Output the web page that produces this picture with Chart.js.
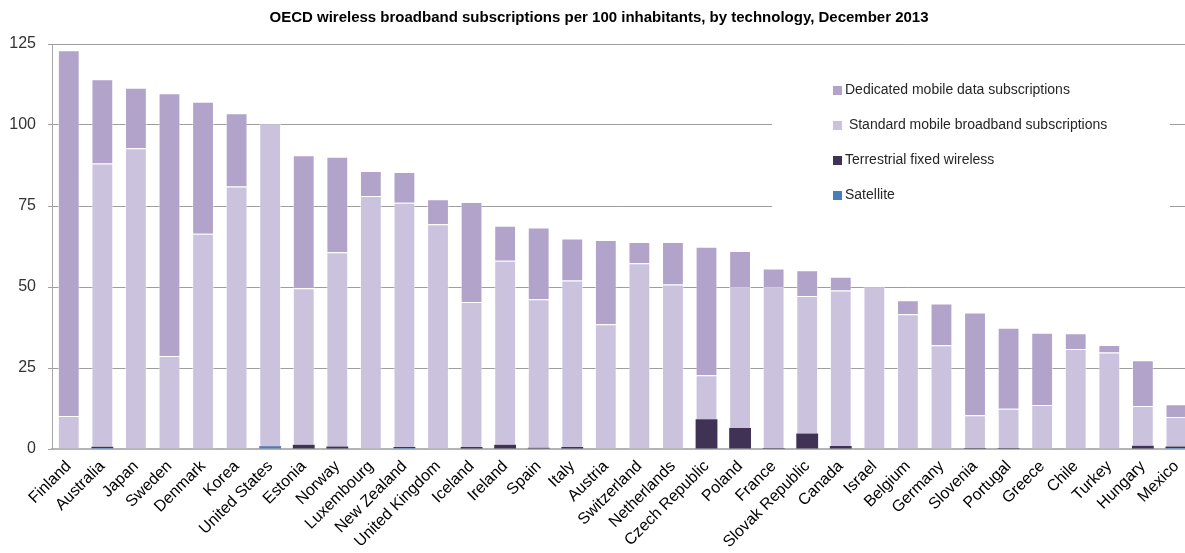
<!DOCTYPE html>
<html>
<head>
<meta charset="utf-8">
<script src="https://cdn.jsdelivr.net/npm/chart.js@4/dist/chart.umd.min.js"></script>
<style>
  html, body { margin: 0; padding: 0; overflow: hidden; background: #fff; }
  #wrap { width: 1198px; height: 553px; }
</style>
</head>
<body>
<div id="wrap"><canvas id="chart" width="1198" height="553"></canvas></div>
<script>
const countries = ['Finland', 'Australia', 'Japan', 'Sweden', 'Denmark', 'Korea', 'United States', 'Estonia',
  'Norway', 'Luxembourg', 'New Zealand', 'United Kingdom', 'Iceland', 'Ireland', 'Spain', 'Italy', 'Austria',
  'Switzerland', 'Netherlands', 'Czech Republic', 'Poland', 'France', 'Slovak Republic', 'Canada', 'Israel',
  'Belgium', 'Germany', 'Slovenia', 'Portugal', 'Greece', 'Chile', 'Turkey', 'Hungary', 'Mexico'];

const satellite = [0, 0.3, 0, 0, 0, 0, 0.8, 0, 0, 0, 0.3, 0, 0, 0, 0, 0, 0,
  0, 0, 0, 0, 0, 0, 0, 0, 0, 0, 0, 0, 0, 0, 0, 0, 0.3];

const terrestrial = [0, 0.4, 0, 0, 0, 0, 0.1, 1.3, 0.8, 0, 0.3, 0, 0.6, 1.3, 0.4, 0.6, 0,
  0, 0, 9.2, 6.5, 0.3, 4.8, 0.9, 0, 0, 0, 0.3, 0.3, 0, 0, 0, 1.0, 0.5];

const standard = [10.2, 87.4, 92.8, 28.7, 66.4, 81.0, 99.6, 48.3, 59.9, 78.1, 75.4, 69.4, 44.8, 56.8, 45.8, 51.4, 38.5,
  57.3, 50.8, 13.6, 43.5, 49.7, 42.4, 48.0, 50.2, 41.6, 32.0, 10.1, 12.1, 13.6, 30.9, 29.8, 12.3, 9.1];

const dedicated = [112.9, 26.0, 18.7, 81.1, 40.8, 22.6, 0, 41.1, 29.5, 7.7, 9.5, 7.7, 30.8, 10.8, 22.2, 13.0, 26.0,
  6.6, 13.1, 39.6, 11.1, 5.7, 8.0, 4.3, 0, 4.3, 12.9, 31.7, 25.0, 22.3, 4.8, 2.3, 14.1, 3.9];

const yTicks = [0, 25, 50, 75, 100, 125];

const colors = {
  dedicated: '#b1a3c9',
  standard: '#cbc3dd',
  terrestrial: '#3f3254',
  satellite: '#4a7ebb'
};

// legend drawn inside the plot, on a white box that hides the grid lines behind it
const boxLegend = {
  id: 'boxLegend',
  afterDraw(chart) {
    const ctx = chart.ctx;
    ctx.save();
    ctx.fillStyle = '#fff';
    ctx.fillRect(772, 62, 398, 150);
    ctx.font = '14px "Liberation Sans", Arial, sans-serif';
    ctx.textBaseline = 'middle';
    const items = chart.data.datasets.slice().reverse();
    items.forEach((ds, i) => {
      const y = 90 + i * 35;
      ctx.fillStyle = ds.backgroundColor;
      ctx.fillRect(833, y - 4, 9, 9);
      ctx.fillStyle = '#262626';
      ctx.fillText(ds.label, 845, y);
    });
    ctx.restore();
  }
};

new Chart(document.getElementById('chart'), {
  type: 'bar',
  data: {
    labels: countries,
    datasets: [
      { label: 'Satellite', data: satellite, backgroundColor: colors.satellite },
      { label: 'Terrestrial fixed wireless', data: terrestrial, backgroundColor: colors.terrestrial },
      { label: ' Standard mobile broadband subscriptions', data: standard, backgroundColor: colors.standard,
        borderColor: 'rgba(255,255,255,0.5)', borderWidth: 1 },
      { label: 'Dedicated mobile data subscriptions', data: dedicated, backgroundColor: colors.dedicated,
        borderColor: 'rgba(255,255,255,0.5)', borderWidth: 1 }
    ]
  },
  options: {
    responsive: false,
    animation: false,
    layout: { padding: 0 },
    datasets: {
      bar: { barPercentage: 0.65, categoryPercentage: 1 }
    },
    plugins: {
      legend: { display: false },
      tooltip: { enabled: false },
      title: {
        display: true,
        text: 'OECD wireless broadband subscriptions per 100 inhabitants, by technology, December 2013',
        color: '#000',
        font: { family: '"Liberation Sans", Arial, sans-serif', size: 15, weight: 'bold' },
        padding: { top: 9, bottom: 17 }
      }
    },
    scales: {
      x: {
        stacked: true,
        grid: { display: false, drawTicks: false },
        border: { display: true, color: '#b4b4b4', width: 2 },
        ticks: {
          autoSkip: false,
          maxRotation: 45,
          minRotation: 45,
          padding: 8,
          color: '#000',
          font: { family: '"Liberation Sans", Arial, sans-serif', size: 16 }
        },
        afterFit(scale) { scale.height = 104; }
      },
      y: {
        stacked: true,
        min: 0,
        max: 125,
        afterBuildTicks(scale) { scale.ticks = yTicks.map(v => ({ value: v })); },
        grid: { color: '#9d9d9d', lineWidth: 1, drawTicks: true, tickLength: 4 },
        border: { display: true, color: '#a6a6a6', width: 1 },
        ticks: {
          padding: 12,
          color: '#333',
          font: { family: '"Liberation Sans", Arial, sans-serif', size: 16 }
        },
        afterFit(scale) { scale.width = 52; }
      }
    }
  },
  plugins: [boxLegend]
});
</script>
</body>
</html>
